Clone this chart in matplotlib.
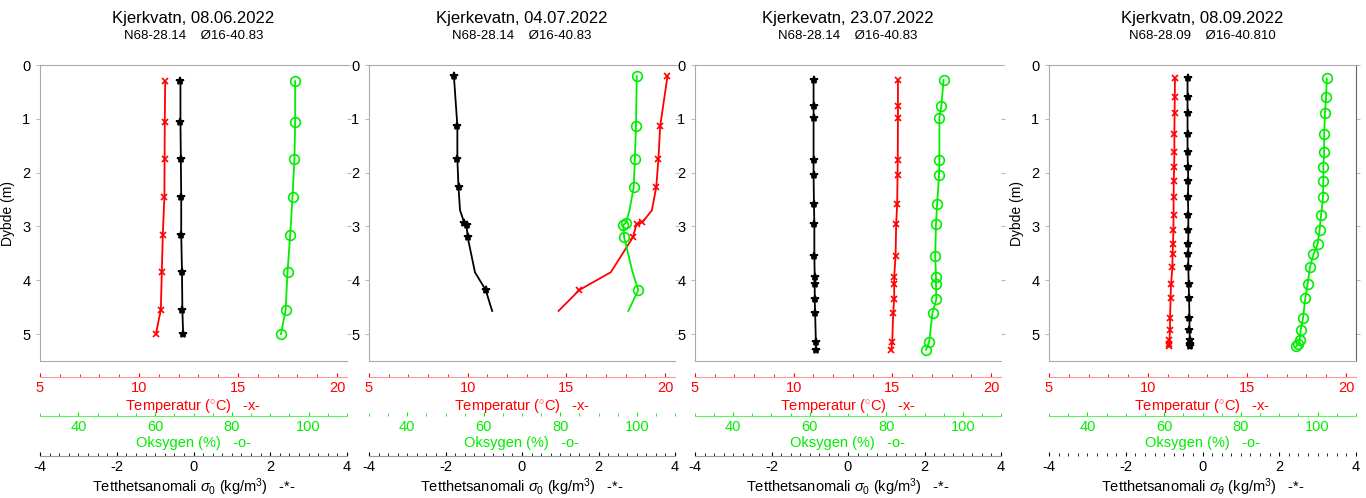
import numpy as np
import matplotlib
matplotlib.use('Agg')
from matplotlib import pyplot as plt
from matplotlib.ticker import MultipleLocator

plt.rcParams['font.family'] = ['Liberation Sans', 'DejaVu Sans']
plt.rcParams['mathtext.fontset'] = 'custom'
plt.rcParams['mathtext.rm'] = 'Liberation Sans'
plt.rcParams['mathtext.it'] = 'Liberation Sans:italic'
plt.rcParams['axes.unicode_minus'] = False

# ---- data ----
titles = ['Kjerkvatn, 08.06.2022', 'Kjerkevatn, 04.07.2022',
          'Kjerkevatn, 23.07.2022', 'Kjerkvatn, 08.09.2022']
subtitles = ['N68-28.14    Ø16-40.83', 'N68-28.14    Ø16-40.83',
             'N68-28.14    Ø16-40.83', 'N68-28.09    Ø16-40.810']
sigma_sym = ['0', '0', '0', r'\theta']

# panel 1
depth1 = [0.3, 1.05, 1.75, 2.45, 3.15, 3.85, 4.55, 5.0]
temp1 = [11.32, 11.3, 11.29, 11.28, 11.2, 11.15, 11.1, 10.85]
oxy1 = [96.5, 96.5, 96.3, 95.8, 95.2, 94.5, 94.0, 92.8]
dens1 = [-0.34, -0.34, -0.33, -0.32, -0.32, -0.30, -0.29, -0.27]

# panel 2 (lines pass through extra unmarked points)
depth2_dens = [0.21, 1.13, 1.75, 2.27, 2.7, 2.93, 2.97, 3.2, 3.85, 4.18, 4.57]
dens2 = [-1.78, -1.69, -1.69, -1.66, -1.62, -1.51, -1.45, -1.42, -1.23, -0.95, -0.78]
mark2_dens = [0, 1, 2, 3, 5, 6, 7, 9]
depth2_temp = [0.21, 1.13, 1.75, 2.27, 2.7, 2.92, 2.96, 3.2, 3.85, 4.18, 4.57]
temp2 = [20.12, 19.75, 19.66, 19.55, 19.33, 18.85, 18.55, 18.37, 17.25, 15.66, 14.6]
mark2_temp = [0, 1, 2, 3, 5, 6, 7, 9]
depth2_oxy = [0.21, 1.13, 1.75, 2.27, 2.7, 2.93, 2.97, 3.2, 3.85, 4.18, 4.57]
oxy2 = [100.0, 99.8, 99.5, 99.2, 98.1, 97.2, 96.5, 96.7, 98.9, 100.4, 97.8]
mark2_oxy = [0, 1, 2, 3, 5, 6, 7, 9]

# panel 3
depth3 = [0.28, 0.76, 0.98, 1.76, 2.04, 2.58, 2.95, 3.55, 3.93, 4.06, 4.35, 4.6, 5.15, 5.29]
temp3 = [15.28, 15.28, 15.28, 15.27, 15.26, 15.24, 15.19, 15.16, 15.09, 15.09, 15.09, 15.04, 14.99, 14.94]
oxy3 = [95.0, 94.4, 93.9, 93.9, 93.8, 93.3, 93.0, 92.8, 93.0, 93.0, 93.1, 92.1, 91.2, 90.4]
dens3 = [-0.90, -0.90, -0.90, -0.90, -0.90, -0.89, -0.88, -0.88, -0.87, -0.87, -0.87, -0.86, -0.84, -0.83]

# panel 4
depth4 = [0.25, 0.59, 0.9, 1.28, 1.62, 1.89, 2.16, 2.45, 2.79, 3.07,
          3.33, 3.52, 3.76, 4.07, 4.33, 4.70, 4.92, 5.11, 5.18, 5.23]
temp4 = [11.36, 11.35, 11.34, 11.33, 11.33, 11.32, 11.3, 11.29, 11.29, 11.28,
         11.26, 11.24, 11.23, 11.16, 11.14, 11.11, 11.11, 11.08, 11.06, 11.04]
oxy4 = [102.4, 102.2, 101.9, 101.7, 101.7, 101.5, 101.5, 101.4, 100.9, 100.5,
        100.0, 98.9, 98.0, 97.4, 96.8, 96.2, 95.6, 95.3, 95.0, 94.4]
dens4 = [-0.39, -0.39, -0.39, -0.39, -0.39, -0.38, -0.37, -0.38, -0.37, -0.37,
         -0.37, -0.37, -0.37, -0.36, -0.35, -0.34, -0.34, -0.33, -0.33, -0.32]

all_idx1 = list(range(len(depth1)))
all_idx3 = list(range(len(depth3)))
all_idx4 = list(range(len(depth4)))
panels = [
    dict(t=(depth1, temp1, all_idx1), o=(depth1, oxy1, all_idx1), d=(depth1, dens1, all_idx1)),
    dict(t=(depth2_temp, temp2, mark2_temp), o=(depth2_oxy, oxy2, mark2_oxy), d=(depth2_dens, dens2, mark2_dens)),
    dict(t=(depth3, temp3, all_idx3), o=(depth3, oxy3, all_idx3), d=(depth3, dens3, all_idx3)),
    dict(t=(depth4, temp4, all_idx4), o=(depth4, oxy4, all_idx4), d=(depth4, dens4, all_idx4)),
]

# pixel extents of each panel box
W, H = 1366, 498
lefts = [40, 369, 695, 1049]
rights = [347, 675, 1001, 1356]
top_px, bot_px = 65, 361

RED = '#ff0000'
GREEN = '#00ee00'

fig = plt.figure(figsize=(W / 100, H / 100), dpi=100)

def px2pt(p):
    return p * 72 / 100

for i in range(4):
    l, r = lefts[i], rights[i]
    ax = fig.add_axes([l / W, 1 - bot_px / H, (r - l) / W, (bot_px - top_px) / H])
    ax.set_ylim(5.5, 0)
    ax.set_xticks([])
    ax.yaxis.set_major_locator(MultipleLocator(1))
    ax.tick_params(axis='y', labelsize=10.5, length=3, color='#bbbbbb', pad=4,
                   right=True, direction='out')
    for s in ['top', 'left', 'bottom']:
        ax.spines[s].set_color('#aaaaaa')
    if i == 3:
        ax.spines['right'].set_color('#666666')
    else:
        ax.spines['right'].set_visible(False)
    if i in (0, 3):
        ax.set_ylabel('Dybde (m)', fontsize=10, labelpad=5)

    ax.text(0.5, 1.0 + 47 / 296, titles[i], transform=ax.transAxes,
            ha='center', va='center', fontsize=12)
    ax.text(0.5, 1.0 + 29 / 296, subtitles[i], transform=ax.transAxes,
            ha='center', va='center', fontsize=9.5)

    specs = [
        ('t', (5, 20.5), RED, 'x', 5, 16, 5, 1,
         r'Temperatur ($^{\circ}$C)   -x-', '#ff9999'),
        ('o', (30, 110), GREEN, 'o', 7, 55, 20, 5,
         'Oksygen (%)   -o-', '#66ee66'),
        ('d', (-4, 4), 'black', '*', 6, 95, 2, 0.25,
         r'Tetthetsanomali $\sigma_{' + sigma_sym[i] + r'}$ (kg/m$^3$)   -*-', '#999999'),
    ]
    for key, lim, col, mk, ms, off, major, minor, label, spcol in specs:
        tw = ax.twiny()
        tw.set_xlim(*lim)
        tw.set_ylim(5.5, 0)
        for s in ['top', 'left', 'right']:
            tw.spines[s].set_visible(False)
        tw.xaxis.set_ticks_position('bottom')
        tw.xaxis.set_label_position('bottom')
        tw.spines['bottom'].set_position(('outward', px2pt(off)))
        tw.spines['bottom'].set_color(spcol)
        if (key == 'd' and i == 3) or (key == 'o' and i == 1):
            tw.spines['bottom'].set_visible(False)
        tw.xaxis.set_major_locator(MultipleLocator(major))
        tw.xaxis.set_minor_locator(MultipleLocator(minor))
        tw.tick_params(axis='x', which='major', direction='in', length=3,
                       color=col, labelcolor=col, labelsize=10.5, pad=3)
        tw.tick_params(axis='x', which='minor', direction='in', length=2, color=col)
        tw.set_xlabel(label, color=col, fontsize=10.5, labelpad=1.5)

        dep, val, marks = panels[i][key]
        tw.plot(val, dep, '-', color=col, lw=1.3)
        tw.plot([val[k] for k in marks], [dep[k] for k in marks], linestyle='none',
                marker=mk, color=col, ms=ms, mfc='none' if mk == 'o' else col,
                mew=1.2)

fig.savefig('out.png', dpi=100)
